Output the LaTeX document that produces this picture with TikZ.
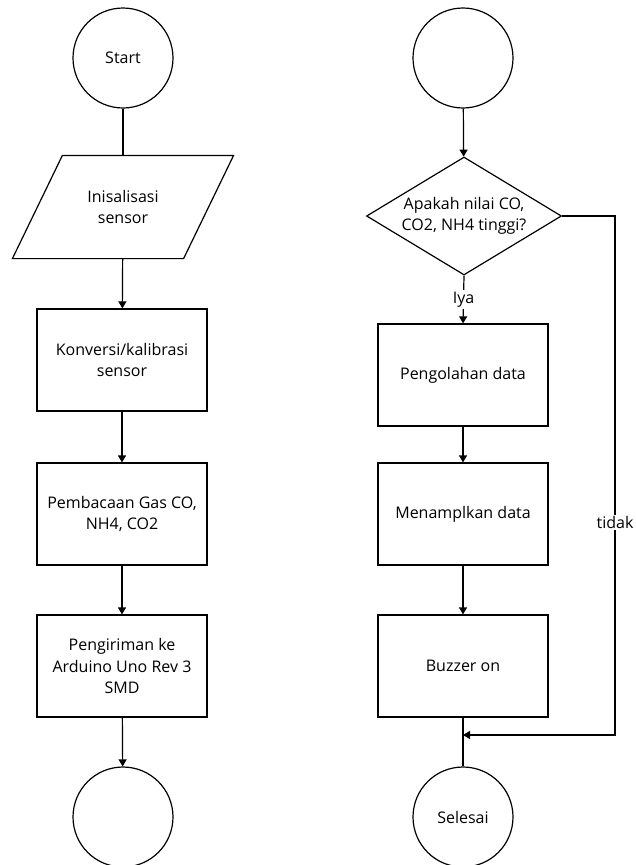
\documentclass[tikz,border=0pt]{standalone}
\usepackage{fontspec}
\setmainfont{Open Sans}
\usetikzlibrary{positioning,calc,shapes.geometric,arrows.meta}

\begin{document}
\begin{tikzpicture}[x=1pt, y=-1pt, line width=1.2pt,
    font=\fontsize{16}{21.5}\selectfont,
    terminal/.style={draw, circle, minimum size=100pt, inner sep=0pt},
    proses/.style={draw, rectangle, minimum width=170pt, minimum height=102pt, align=center},
    masukan/.style={rectangle, minimum width=170pt, minimum height=102pt, align=center},
    keputusan/.style={draw, diamond, minimum width=195pt, minimum height=118pt, inner sep=0pt},
    panah/.style={-{Triangle[length=7pt, width=8pt]}},
    ket/.style={fill=white, inner sep=1.5pt}]
          \useasboundingbox (0, 0) rectangle (635, 865);%
          \node [terminal] (mulai) at (123, 58) {Start};%
          \node [masukan] (inisial) at (123, 207) {Inisalisasi\\sensor};%
          \draw ([xshift=25pt]inisial.north west) -- ([xshift=25pt]inisial.north east)%
            -- ([xshift=-25pt]inisial.south east) -- ([xshift=-25pt]inisial.south west) -- cycle;%
          \node [proses] (konversi) at (122, 360) {Konversi/kalibrasi\\sensor};%
          \node [proses] (baca) at (122, 514) {Pembacaan Gas CO,\\NH4, CO2};%
          \node [proses] (kirim) at (122, 666) {Pengiriman ke\\Arduino Uno Rev 3\\SMD};%
          \node [terminal] (konektorA) at (123, 817) {};%
          \node [terminal] (konektorB) at (463, 58) {};%
          \node [keputusan] (cek) at (464, 216) {};%
          \node [align=center] (cekteks) at (cek.center) {Apakah nilai CO,\\CO2, NH4 tinggi?};%
          \node [proses] (olah) at (463, 375) {Pengolahan data};%
          \node [proses] (tampil) at (463, 514) {Menamplkan data};%
          \node [proses] (buzzer) at (463, 666) {Buzzer on};%
          \node [terminal] (selesai) at (463, 817) {Selesai};%
          \coordinate (belok1) at (615, 216);%
          \coordinate (belok2) at (615, 735);%
          \coordinate (gabung) at (463, 735);%
          \draw (mulai) -- (inisial);%
          \draw [panah] (inisial) -- (konversi);%
          \draw [panah] (konversi) -- (baca);%
          \draw [panah] (baca) -- (kirim);%
          \draw [panah] (kirim) -- (konektorA);%
          \draw [panah] (konektorB) -- (cek);%
          \draw [panah] (cek.south) -- node [ket] {Iya} (olah.north);%
          \draw [panah] (olah) -- (tampil);%
          \draw [panah] (tampil) -- (buzzer);%
          \draw (buzzer) -- (selesai);%
          \draw [panah] (cek.east) -- (belok1) -- node [ket, pos=0.59] {tidak} (belok2) -- (gabung);%
        \end{tikzpicture}
\end{document}
